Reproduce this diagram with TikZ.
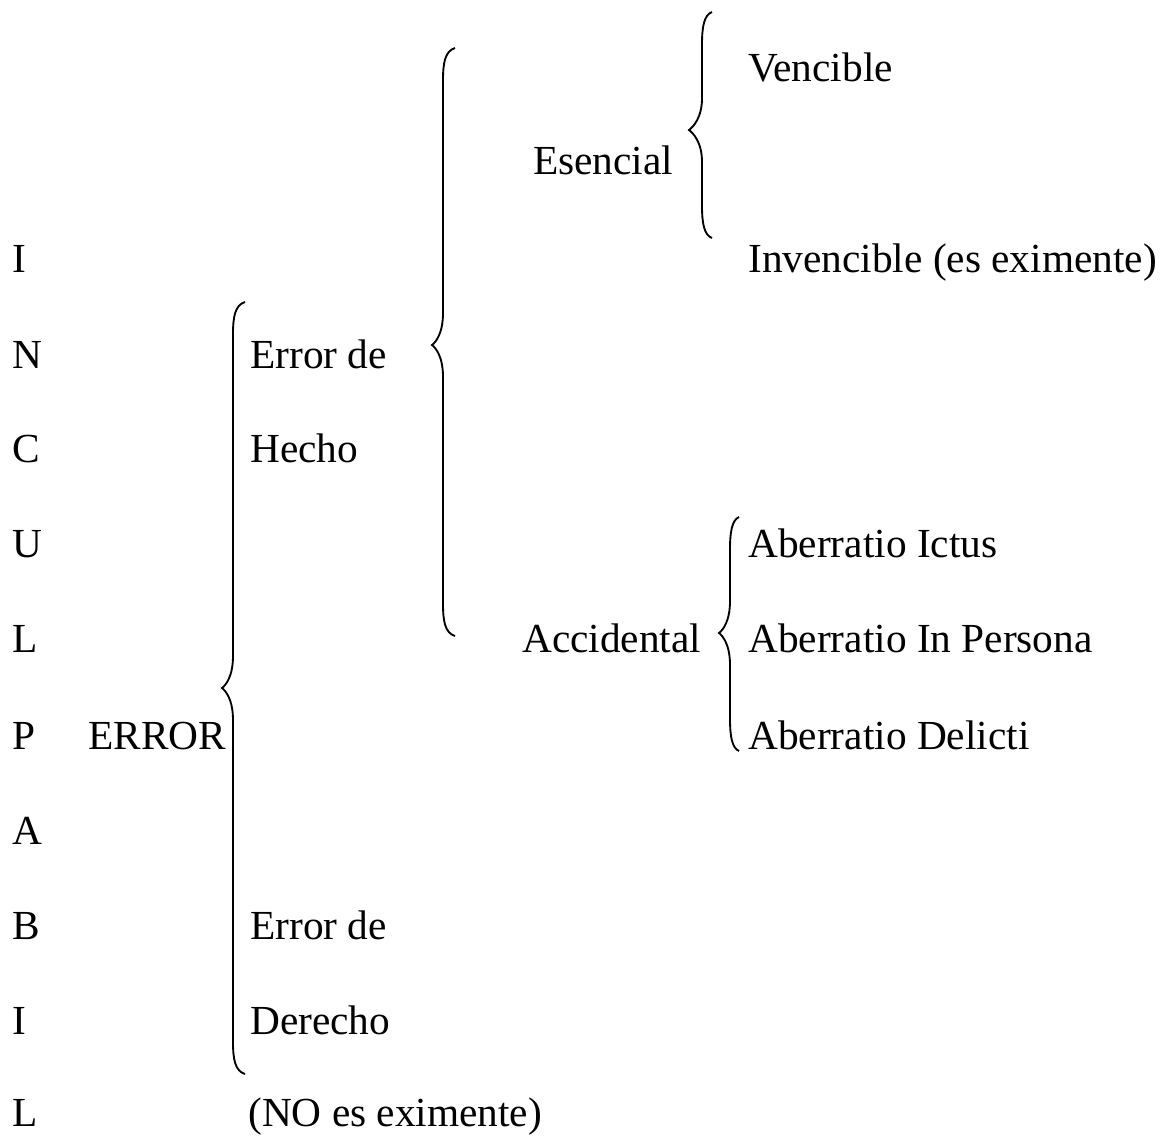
\documentclass[tikz,border=0pt]{standalone}
\usepackage{fontspec}
\setmainfont{Liberation Serif}
\begin{document}
\begin{tikzpicture}[x=0.75pt,y=-0.75pt,
  txt/.style={anchor=base west,inner sep=0pt,font=\fontsize{31}{37}\selectfont},
  brace/.style={draw=black,line width=1.4pt}]
\useasboundingbox (0,0) rectangle (1169,1136);
% left column letters
\node[txt] (l1) at (12,272) {I};
\node[txt] (l2) at (12,368) {N};
\node[txt] (l3) at (12,462) {C};
\node[txt] (l4) at (12,557) {U};
\node[txt] (l5) at (12,652) {L};
\node[txt] (l6) at (12,749) {P};
\node[txt] (l7) at (12,844) {A};
\node[txt] (l8) at (12,939) {B};
\node[txt] (l9) at (12,1034) {I};
\node[txt] (l10) at (12,1126) {L};
% texts
\node[txt] (error) at (88,749) {ERROR};
\node[txt] (eh1) at (250,368) {Error de};
\node[txt] (eh2) at (250,462) {Hecho};
\node[txt] (ed1) at (250,939) {Error de};
\node[txt] (ed2) at (250,1034) {Derecho};
\node[txt] (noes) at (248,1126) {(NO es eximente)};
\node[txt] (esen) at (533,174) {Esencial};
\node[txt] (acc) at (522,652) {Accidental};
\node[txt] (venc) at (748,81) {Vencible};
\node[txt] (inv) at (748,272) {Invencible (es eximente)};
\node[txt] (ab1) at (748,557) {Aberratio Ictus};
\node[txt] (ab2) at (748,652) {Aberratio In Persona};
\node[txt] (ab3) at (748,749) {Aberratio Delicti};
% braces
\newcommand{\mybrace}[6]{% xe, xs, xt, yt, ym, yb
  \draw[brace] (#1,#4) .. controls (#2+2,#4+3) and (#2,#4+15) .. (#2,#4+32)
    -- (#2,#5-32) .. controls (#2,#5-12) and (#3+4,#5-3) .. (#3,#5)
    .. controls (#3+4,#5+3) and (#2,#5+12) .. (#2,#5+32)
    -- (#2,#6-32) .. controls (#2,#6-15) and (#2+2,#6-3) .. (#1,#6);}
\mybrace{245}{233}{222}{302}{688}{1074}
\mybrace{455}{443}{432}{48}{345}{636}
\mybrace{712}{702}{689}{12}{130}{238}
\mybrace{739}{730}{719}{517}{633}{751}
\end{tikzpicture}
\end{document}
